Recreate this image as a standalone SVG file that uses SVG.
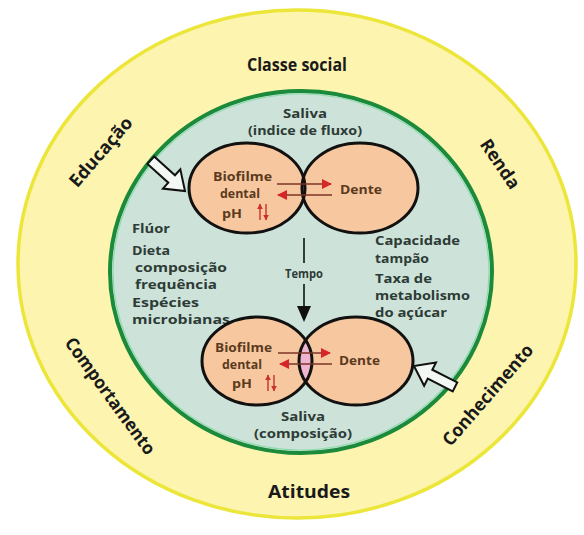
<svg xmlns="http://www.w3.org/2000/svg" width="584" height="535" viewBox="0 0 584 535">
<defs>
<style>
.outer{font-family:"Open Sans","Liberation Sans",sans-serif;font-weight:700;font-size:18px;fill:#1a1a1a}
.inner{font-family:"Open Sans","Liberation Sans",sans-serif;font-weight:700;font-size:13px;fill:#2d3b36}
.bio{font-family:"Open Sans","Liberation Sans",sans-serif;font-weight:700;font-size:12.5px;fill:#5b3a1e}
.ell{fill:#f7c89f;stroke:none}
.eo{fill:none;stroke:#111;stroke-width:3}
.hollow{fill:#f4f8f4;stroke:#111;stroke-width:2;stroke-linejoin:miter}
.rline{stroke:#7a3526;stroke-width:1.5;fill:none}
.ph{stroke:#c8322a;stroke-width:1.4;fill:none}
</style>
<marker id="rh" viewBox="0 0 10 10" refX="9" refY="5" markerWidth="11" markerHeight="10" markerUnits="userSpaceOnUse" orient="auto"><path d="M0,0 L10,5 L0,10 Z" fill="#d6262a"/></marker>
<marker id="ph" viewBox="0 0 10 10" refX="9" refY="5" markerWidth="6" markerHeight="6" markerUnits="userSpaceOnUse" orient="auto"><path d="M0,0 L10,5 L0,10 Z" fill="#c8322a"/></marker>
<path id="blk" d="M0,0 L-18,-13 L-18,-5 L-46,-5 L-46,5 L-18,5 L-18,13 Z"/>
<clipPath id="lensclip"><ellipse cx="257" cy="361" rx="55" ry="44"/></clipPath>
</defs>
<rect width="584" height="535" fill="#ffffff"/>

<g id="outer-ring">
<ellipse cx="297" cy="264" rx="279" ry="254" fill="#fdf4b0" stroke="#ece63a" stroke-width="3.5"/>
<text class="outer" x="297" y="71" text-anchor="middle" textLength="100" lengthAdjust="spacingAndGlyphs">Classe social</text>
<text class="outer" x="309" y="498" text-anchor="middle" textLength="82" lengthAdjust="spacingAndGlyphs">Atitudes</text>
<text class="outer" transform="translate(101,152) rotate(-49)" x="0" y="6" text-anchor="middle" textLength="86" lengthAdjust="spacingAndGlyphs">Educação</text>
<text class="outer" transform="translate(500,164) rotate(56)" x="0" y="6" text-anchor="middle" textLength="56" lengthAdjust="spacingAndGlyphs">Renda</text>
<text class="outer" transform="translate(110,396) rotate(54)" x="0" y="6" text-anchor="middle" textLength="140" lengthAdjust="spacingAndGlyphs">Comportamento</text>
<text class="outer" transform="translate(488,395) rotate(-49)" x="0" y="6" text-anchor="middle" textLength="128" lengthAdjust="spacingAndGlyphs">Conhecimento</text>
</g>

<g id="inner-circle">
<ellipse cx="301" cy="272" rx="191" ry="181" fill="#cde2d8" stroke="#1b8a3a" stroke-width="4"/>
<ellipse cx="301" cy="272" rx="188" ry="178" fill="none" stroke="#8ddcae" stroke-width="1.2"/>
<text class="inner" x="305" y="118" text-anchor="middle" textLength="44" lengthAdjust="spacingAndGlyphs">Saliva</text>
<text class="inner" x="305" y="135" text-anchor="middle" textLength="114" lengthAdjust="spacingAndGlyphs">(indice de fluxo)</text>
<text class="inner" x="132" y="233" textLength="38" lengthAdjust="spacingAndGlyphs">Flúor</text>
<text class="inner" x="132" y="255" textLength="38" lengthAdjust="spacingAndGlyphs">Dieta</text>
<text class="inner" x="135" y="272" textLength="92" lengthAdjust="spacingAndGlyphs">composição</text>
<text class="inner" x="135" y="289" textLength="82" lengthAdjust="spacingAndGlyphs">frequência</text>
<text class="inner" x="132" y="307" textLength="67" lengthAdjust="spacingAndGlyphs">Espécies</text>
<text class="inner" x="132" y="324" textLength="98" lengthAdjust="spacingAndGlyphs">microbianas</text>
<text class="inner" x="375" y="245" textLength="85" lengthAdjust="spacingAndGlyphs">Capacidade</text>
<text class="inner" x="375" y="263" textLength="54" lengthAdjust="spacingAndGlyphs">tampão</text>
<text class="inner" x="375" y="283" textLength="57" lengthAdjust="spacingAndGlyphs">Taxa de</text>
<text class="inner" x="375" y="300" textLength="95" lengthAdjust="spacingAndGlyphs">metabolismo</text>
<text class="inner" x="375" y="317" textLength="72" lengthAdjust="spacingAndGlyphs">do açúcar</text>
<text class="inner" x="303" y="421" text-anchor="middle" textLength="44" lengthAdjust="spacingAndGlyphs">Saliva</text>
<text class="inner" x="303" y="438" text-anchor="middle" textLength="98" lengthAdjust="spacingAndGlyphs">(composição)</text>
<text class="inner" x="304" y="278" text-anchor="middle" textLength="38" lengthAdjust="spacingAndGlyphs">Tempo</text>
</g>

<g id="top-pair">
<ellipse class="ell" cx="247" cy="188" rx="58" ry="45"/>
<ellipse class="ell" cx="360" cy="188" rx="58" ry="45"/>
<ellipse class="eo" cx="247" cy="188" rx="58" ry="45"/>
<ellipse class="eo" cx="360" cy="188" rx="58" ry="45"/>
<text class="bio" x="213" y="181" textLength="59" lengthAdjust="spacingAndGlyphs">Biofilme</text>
<text class="bio" x="220" y="198" textLength="40" lengthAdjust="spacingAndGlyphs">dental</text>
<text class="bio" x="222" y="218" textLength="20" lengthAdjust="spacingAndGlyphs">pH</text>
<text class="bio" x="340" y="194" textLength="42" lengthAdjust="spacingAndGlyphs">Dente</text>
</g>

<g id="bottom-pair">
<ellipse class="ell" cx="257" cy="361" rx="55" ry="44"/>
<ellipse class="ell" cx="356" cy="361" rx="57" ry="44"/>
<ellipse cx="356" cy="361" rx="57" ry="44" fill="#efb5cf" clip-path="url(#lensclip)"/>
<ellipse class="eo" cx="257" cy="361" rx="55" ry="44"/>
<ellipse class="eo" cx="356" cy="361" rx="57" ry="44"/>
<text class="bio" x="215" y="352" textLength="57" lengthAdjust="spacingAndGlyphs">Biofilme</text>
<text class="bio" x="222" y="369" textLength="40" lengthAdjust="spacingAndGlyphs">dental</text>
<text class="bio" x="232" y="388" textLength="20" lengthAdjust="spacingAndGlyphs">pH</text>
<text class="bio" x="339" y="365" textLength="41" lengthAdjust="spacingAndGlyphs">Dente</text>
</g>

<g id="connectors">
<line class="rline" x1="277" y1="184" x2="331" y2="184" marker-end="url(#rh)"/>
<line class="rline" x1="332" y1="195" x2="278" y2="195" marker-end="url(#rh)"/>
<line class="rline" x1="278" y1="353" x2="330" y2="353" marker-end="url(#rh)"/>
<line class="rline" x1="332" y1="364" x2="280" y2="364" marker-end="url(#rh)"/>
<line class="ph" x1="260" y1="220" x2="260" y2="204" marker-end="url(#ph)"/>
<line class="ph" x1="266" y1="204" x2="266" y2="220" marker-end="url(#ph)"/>
<line class="ph" x1="268" y1="391" x2="268" y2="375" marker-end="url(#ph)"/>
<line class="ph" x1="274" y1="375" x2="274" y2="391" marker-end="url(#ph)"/>
<line x1="304" y1="238" x2="304" y2="263" stroke="#111" stroke-width="1.6"/>
<line x1="304" y1="284" x2="304" y2="310" stroke="#111" stroke-width="1.6"/>
<path d="M297,306 L311,306 L304,322 Z" fill="#111"/>
<use href="#blk" class="hollow" transform="translate(185,191) rotate(42)"/>
<use href="#blk" class="hollow" transform="translate(414,366) rotate(207)"/>
</g>
</svg>
